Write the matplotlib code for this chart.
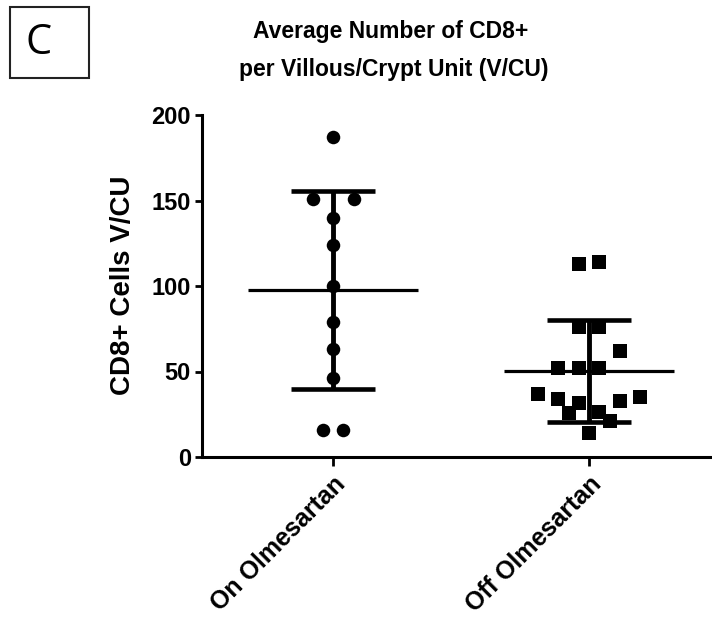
import numpy as np
import matplotlib
matplotlib.use('Agg')
import matplotlib.pyplot as plt
from matplotlib.patches import Rectangle
from matplotlib.transforms import ScaledTranslation

plt.rcParams['font.family'] = ['Liberation Sans', 'DejaVu Sans']

groups = ['On Olmesartan', 'Off Olmesartan']
on_vals = [187, 151, 151, 140, 124, 100, 79, 63, 46, 16, 16]
off_vals = [113, 114, 76, 76, 62, 52, 52, 52, 37, 34, 31.5, 33, 35, 25.5, 26.5, 21, 14]

# horizontal scatter offsets (beeswarm-like spread)
on_jit = [0, -0.08, 0.08, 0, 0, 0, 0, 0, 0, -0.04, 0.04]
off_jit = [-0.04, 0.04, -0.04, 0.04, 0.12, -0.12, -0.04, 0.04, -0.2, -0.12, -0.04, 0.12, 0.2, -0.08, 0.04, 0.08, 0]

title_lines = ['Average Number of CD8+', 'per Villous/Crypt Unit (V/CU)']
ylabel = 'CD8+ Cells V/CU'

fig = plt.figure(figsize=(7.12, 6.22), dpi=100)
ax = fig.add_axes([202/712, 1-457/622, 510/712, 342/622])

ax.scatter(np.array(on_jit) + 0, on_vals, marker='o', s=95, color='black', zorder=3, linewidths=0)
ax.scatter(np.array(off_jit) + 1, off_vals, marker='s', s=100, color='black', zorder=3, linewidths=0)

for i, vals in enumerate([on_vals, off_vals]):
    m = np.mean(vals)
    sd = np.std(vals, ddof=1)
    ax.hlines(m, i - 0.332, i + 0.332, color='black', lw=2.3, zorder=4)
    ax.errorbar(i, m, yerr=sd, fmt='none', ecolor='black', elinewidth=3.5,
                capsize=30, capthick=3.3, zorder=4)

ax.set_xlim(-0.512, 1.48)
ax.set_ylim(0, 200)
ax.set_yticks([0, 50, 100, 150, 200])
ax.set_xticks([0, 1])
ax.set_xticklabels(groups, rotation=45, ha='right', va='top', rotation_mode='anchor',
                   fontsize=18, fontweight='bold')
shift = ScaledTranslation(-4/72, 0, fig.dpi_scale_trans)
for lab in ax.get_xticklabels():
    lab.set_transform(lab.get_transform() + shift)
for lab in ax.get_yticklabels():
    lab.set_fontsize(17)
    lab.set_fontweight('bold')

for s in ['top', 'right']:
    ax.spines[s].set_visible(False)
for s in ['left', 'bottom']:
    ax.spines[s].set_linewidth(2.2)
ax.tick_params(axis='y', length=5, width=2, pad=3)
ax.tick_params(axis='x', length=6.5, width=2, pad=4)

ax.set_ylabel(ylabel, fontsize=20, fontweight='bold')
ax.yaxis.set_label_coords(-0.129, 0.503)

fig.text(391/712, 1 - 38/622, title_lines[0], ha='center', va='baseline', fontsize=16.5,
         fontweight='bold')
fig.text(394/712, 1 - 76/622, title_lines[1], ha='center', va='baseline', fontsize=16.5,
         fontweight='bold')

fig.patches.append(Rectangle((10/712, 1 - 78/622), 79/712, 71/622, transform=fig.transFigure,
                             fill=False, edgecolor='#222222', lw=1.5))
fig.text(39/712, 1 - 43/622, 'C', ha='center', va='center', fontsize=30,
         family=['Open Sans', 'DejaVu Sans'])

plt.savefig('out.png', dpi=100)
